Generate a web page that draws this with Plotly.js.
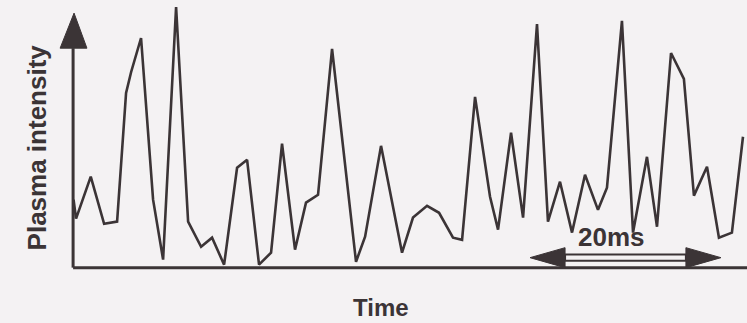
<!DOCTYPE html>
<html>
<head>
<meta charset="utf-8">
<script src="https://cdn.plot.ly/plotly-3.0.1.min.js"></script>
<style>
  html, body { margin: 0; padding: 0; background: #f4f2f3; }
  #chart { width: 747px; height: 323px; }
</style>
</head>
<body>
<div id="chart"></div>
<script>
// Time (ms) and plasma intensity (arbitrary units)
const timeMs = [0.05, 0.31, 1.85, 3.25, 4.61, 5.55, 6.08, 7.12, 8.38, 9.43,
  10.79, 12.05, 13.41, 14.56, 15.82, 17.18, 18.23, 19.48, 20.74, 21.89,
  23.25, 24.40, 25.66, 27.13, 29.64, 30.59, 32.26, 34.46, 35.61, 37.08,
  38.34, 39.80, 40.75, 42.11, 43.68, 44.52, 45.88, 47.14, 48.60, 49.75,
  51.01, 52.27, 53.63, 54.99, 55.93, 57.50, 58.66, 60.12, 61.17, 62.64,
  63.99, 65.04, 66.41, 67.66, 69.02, 70.18];
const intensity = [25.4, 18.3, 34.0, 16.4, 17.2, 65.3, 73.1, 85.8, 25.4, 3.0,
  97.4, 17.2, 7.8, 11.2, 1.1, 37.3, 40.3, 1.1, 5.6, 46.3,
  6.7, 24.3, 27.2, 81.7, 2.2, 11.6, 45.5, 5.6, 18.7, 23.1,
  20.5, 11.2, 10.4, 63.8, 26.5, 14.2, 50.4, 18.7, 91.0, 17.2,
  32.1, 13.1, 34.7, 21.6, 29.9, 92.2, 13.1, 41.4, 15.3, 80.2,
  70.5, 26.9, 37.7, 11.2, 13.1, 48.9];

// Scale bar (ms)
const scaleBarStart = 47.87;
const scaleBarLength = 20;
const scaleBarLabel = '20ms';

const xTitle = 'Time';
const yTitle = 'Plasma intensity';

const ink = '#3b3436';
const bg = '#f4f2f3';

const xMax = 70.6, yMax = 100;
const sb0 = scaleBarStart, sb1 = scaleBarStart + scaleBarLength;
const headLen = 3.67, headHalf = 3.73, barY = 3.73;

const shapes = [
  // x axis
  {type: 'line', xref: 'x', yref: 'y', x0: 0, x1: xMax + 2, y0: 0, y1: 0,
   line: {color: ink, width: 3}},
  // y axis
  {type: 'line', xref: 'x', yref: 'y', x0: 0, x1: 0, y0: 0, y1: 82,
   line: {color: ink, width: 3}},
  // y axis arrow head
  {type: 'path', xref: 'x', yref: 'y',
   path: `M ${-1.36} 82 L 0.1 95.1 L 1.45 82 Z`,
   fillcolor: ink, line: {color: ink, width: 1}},
  // scale bar shaft (hollow)
  {type: 'rect', xref: 'x', yref: 'y', x0: sb0 + headLen, x1: sb1 - headLen,
   y0: barY - 1.15, y1: barY + 1.15, line: {color: ink, width: 2}, fillcolor: bg},
  // left head
  {type: 'path', xref: 'x', yref: 'y',
   path: `M ${sb0} ${barY} L ${sb0 + headLen} ${barY + headHalf} L ${sb0 + headLen} ${barY - headHalf} Z`,
   fillcolor: ink, line: {color: ink, width: 1}},
  // right head
  {type: 'path', xref: 'x', yref: 'y',
   path: `M ${sb1} ${barY} L ${sb1 - headLen} ${barY + headHalf} L ${sb1 - headLen} ${barY - headHalf} Z`,
   fillcolor: ink, line: {color: ink, width: 1}}
];

const font = {family: 'Liberation Sans, Arial, sans-serif', color: ink, weight: 'bold'};

const annotations = [
  {text: yTitle, xref: 'paper', yref: 'paper', x: 0, y: 0.46, xshift: -17,
   textangle: -90, showarrow: false, xanchor: 'center', yanchor: 'middle',
   font: Object.assign({size: 26}, font)},
  {text: xTitle, xref: 'paper', yref: 'paper', x: 0, y: -0.128, xshift: 327,
   showarrow: false, xanchor: 'center', yanchor: 'middle',
   font: Object.assign({size: 24}, font)},
  {text: scaleBarLabel, xref: 'x', yref: 'y', x: (sb0 + sb1) / 2, y: 11.4, xshift: -14,
   showarrow: false, xanchor: 'center', yanchor: 'middle',
   font: Object.assign({size: 26}, font)}
];

const trace = {
  x: timeMs, y: intensity, type: 'scatter', mode: 'lines',
  line: {color: ink, width: 2.6}, hoverinfo: 'skip', cliponaxis: false
};

const layout = {
  width: 747, height: 323,
  margin: {l: 54, r: 0, t: 0, b: 50},
  paper_bgcolor: bg, plot_bgcolor: bg,
  showlegend: false,
  xaxis: {range: [-2, xMax], showgrid: false, zeroline: false, showline: false,
          showticklabels: false, ticks: ''},
  yaxis: {range: [-2, yMax], showgrid: false, zeroline: false, showline: false,
          showticklabels: false, ticks: ''},
  shapes: shapes,
  annotations: annotations
};

Plotly.newPlot('chart', [trace], layout, {displayModeBar: false, staticPlot: true});
</script>
</body>
</html>
